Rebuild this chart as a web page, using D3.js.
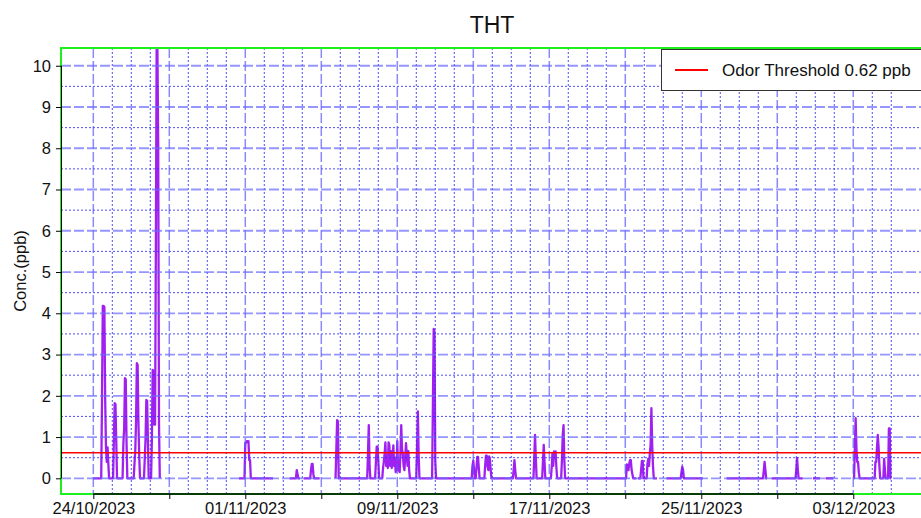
<!DOCTYPE html>

<head>
  <meta charset="utf-8">
  <script src="https://d3js.org/d3.v7.min.js"></script>
  <style>
    body {
      margin: 0;
      background: #fff;
    }

    text {
      font-family: "Liberation Sans", Arial, sans-serif;
      fill: #111;
    }

    text.title {
      font-size: 23px;
    }

    .axis text {
      font-size: 16.5px;
      fill: #111;
    }

    .axis .tick line {
      stroke: #000;
    }

    .axis path.domain {
      display: none;
    }

    .legend text {
      font-size: 17px;
    }
  </style>
</head>

<body>
  <script>
    // hourly THT readings, hours after 24/10/2023 00:00 -> ppb
    // every run is one stretch of recorded data, gaps between runs are missing data
    const startTime = '24/10/2023';
    const run1 = [[0, 0], [10, 0], [11, 1.92], [12, 4.18], [13, 4.18], [14, 4.15], [15, 1.92], [16, 0.77], [17, 0.4], [18, 0.75], [19, 0.35], [20, 0],
      [25, 0], [26, 0.93], [27, 1.82], [28, 1.8], [29, 0.9], [30, 0],
      [37, 0], [38, 0.85], [39, 1.21], [40, 2.43], [41, 2.4], [42, 0.85], [43, 0],
      [51, 0], [52, 0.35], [53, 0.65], [54, 1.37], [55, 2.79], [56, 2.75], [57, 1.37], [58, 0.55], [59, 0],
      [64, 0], [65, 0.47], [66, 0.95], [67, 1.9], [68, 1.88], [69, 0.95], [70, 0],
      [73, 0], [74, 0.95], [75, 2.63], [76, 2.6], [77, 1.3], [78, 1.3], [79, 5.4], [80, 10.4], [81, 10.4], [82, 8.07], [83, 1.3], [84, 0]];
    const run2 = [[184, 0], [191, 0], [192, 0.86], [193, 0.86], [194, 0.9], [195, 0.9], [196, 0.9], [197, 0.44], [198, 0.44], [199, 0], [227, 0]];
    const run3 = [[248, 0], [256, 0], [257, 0.2], [258, 0.1], [259, 0], [261, 0]];
    const run4 = [[266, 0], [274, 0], [275, 0.2], [276, 0.35], [277, 0.35], [278, 0.1], [279, 0], [286, 0]];
    const run5 = [[306, 0], [307, 0.7], [308, 1.41], [309, 1.38], [310, 0],
      [346, 0], [347, 0.61], [348, 1.29], [349, 0.3], [350, 0],
      [356, 0], [357, 0.4], [358, 0.77], [359, 0.77], [360, 0.45], [361, 0],
      [365, 0], [366, 0.25], [367, 0.4], [368, 0.6], [369, 0.87], [370, 0.3], [371, 0.5], [372, 0.25], [373, 0.87], [374, 0.8],
      [375, 0.3], [376, 0.66], [377, 0.25], [378, 0.45], [379, 0.8], [380, 0.3], [381, 0.5], [382, 0.15], [383, 0.25], [384, 0.9],
      [385, 0.2], [386, 0.2], [387, 0.15], [388, 0.6], [389, 1.29], [390, 0.7], [391, 0.6], [392, 0.3], [393, 0.2], [394, 0.5],
      [395, 0.85], [396, 0.6], [397, 0.3], [398, 0.66], [399, 0.2], [400, 0],
      [408, 0], [409, 0.8], [410, 1.62], [411, 0.55], [412, 0],
      [428, 0], [429, 1.82], [430, 3.62], [431, 3.55], [432, 0.4], [433, 0],
      [478, 0], [479, 0.3], [480, 0.43], [481, 0.2], [482, 0], [483, 0],
      [484, 0.24], [485, 0.52], [486, 0.52], [487, 0.24], [488, 0],
      [494, 0], [495, 0.3], [496, 0.55], [497, 0.55], [498, 0.3], [499, 0.2], [500, 0.53], [501, 0.45], [502, 0.2], [503, 0],
      [530, 0], [531, 0.2], [532, 0.44], [533, 0.2], [534, 0],
      [556, 0], [557, 0.5], [558, 1.05], [559, 0.5], [560, 0],
      [567, 0], [568, 0.4], [569, 0.81], [570, 0.4], [571, 0],
      [578, 0], [579, 0.25], [580, 0.6], [581, 0.3], [582, 0.65], [583, 0.5], [584, 0.65], [585, 0.25], [586, 0],
      [591, 0], [592, 0.45], [593, 1.05], [594, 1.29], [595, 0.45], [596, 0],
      [673, 0], [674, 0.34], [675, 0.3], [676, 0.2], [677, 0.35], [678, 0.44], [679, 0.44], [680, 0.2], [681, 0.1], [682, 0], [686, 0]];
    const run6 = [[688, 0], [691, 0], [692, 0.2], [693, 0.42], [694, 0.42], [695, 0],
      [699, 0], [700, 0.35], [701, 0.47], [702, 0.3], [703, 0.6], [704, 0.81], [705, 1.7], [706, 0.81], [707, 0.3], [708, 0], [712, 0]];
    const run7 = [[724, 0], [742, 0], [743, 0.15], [744, 0.28], [745, 0.2], [746, 0], [770, 0]];
    const run8 = [[800, 0], [846, 0], [847, 0.2], [848, 0.4], [849, 0.2], [850, 0], [851, 0]];
    const run9 = [[857, 0], [887, 0], [888, 0.2], [889, 0.49], [890, 0.2], [891, 0], [896, 0]];
    const run10 = [[909, 0], [918, 0]];
    const run11 = [[925, 0], [935, 0]];
    const run12 = [[960, 0], [961, 0], [962, 0.73], [963, 1.46], [964, 0.73], [965, 0.4], [966, 0.4], [967, 0.15], [968, 0],
      [987, 0], [988, 0.4], [989, 0.4], [990, 0.76], [991, 1.05], [992, 0.76], [993, 0.3], [994, 0],
      [998, 0], [999, 0.47], [1000, 0.2], [1001, 0], [1004, 0], [1005, 1.21], [1006, 1.21], [1007, 0], [1008, 0]];
    const runs = [run1, run2, run3, run4, run5, run6, run7, run8, run9, run10, run11, run12];

    const threshold = 0.62;
    const xLimits = ['22/10/2023 07:12', '06/12/2023 16:05'];
    const yLimits = [-0.38, 10.43];
    const gridDays = ['24/10/2023', '05/12/2023'];
    const xTicks = ['24/10/2023', '28/10/2023', '01/11/2023', '05/11/2023', '09/11/2023', '13/11/2023',
      '17/11/2023', '21/11/2023', '25/11/2023', '29/11/2023', '03/12/2023'];
    const xLabels = ['24/10/2023', '01/11/2023', '09/11/2023', '17/11/2023', '25/11/2023', '03/12/2023'];
    const yTicks = [0, 1, 2, 3, 4, 5, 6, 7, 8, 9, 10];
    const yMinor = [0.5, 1.5, 2.5, 3.5, 4.5, 5.5, 6.5, 7.5, 8.5, 9.5];

    var width = 921;
    var height = 518;
    const margin = { top: 48, right: -2, bottom: 24, left: 61 };

    var svg = d3.select('body').append('svg')
      .attr('width', width)
      .attr('height', height);

    const parseDay = d3.utcParse('%d/%m/%Y');
    const parseTime = d3.utcParse('%d/%m/%Y %H:%M');
    const t0 = parseDay(startTime);

    let x = d3.scaleUtc()
      .domain(xLimits.map(parseTime))
      .range([margin.left, width - margin.right]);

    let y = d3.scaleLinear()
      .domain(yLimits)
      .range([height - margin.bottom, margin.top]);

    svg.append('clipPath')
      .attr('id', 'plotClip')
      .append('rect')
      .attr('x', margin.left)
      .attr('y', margin.top)
      .attr('width', width - margin.right - margin.left)
      .attr('height', height - margin.bottom - margin.top);

    let plot = svg.append('g').attr('clip-path', 'url(#plotClip)');

    // data
    let line = d3.line()
      .x(d => x(d3.utcHour.offset(t0, d[0])))
      .y(d => y(d[1]));

    plot.selectAll('path.run')
      .data(runs)
      .enter()
      .append('path')
      .attr('class', 'run')
      .attr('d', line)
      .style('fill', 'none')
      .style('stroke', '#a020f0')
      .style('stroke-width', 2.3)
      .style('stroke-linejoin', 'round');

    // grid on top of the data
    let majorDays = xTicks.map(parseDay);
    let minorDays = d3.utcDay.range(parseDay(gridDays[0]), d3.utcDay.offset(parseDay(gridDays[1]), 1))
      .filter(d => !majorDays.some(m => +m == +d));

    plot.selectAll('line.vMinor')
      .data(minorDays)
      .enter()
      .append('line')
      .attr('class', 'vMinor')
      .attr('x1', d => x(d)).attr('x2', d => x(d))
      .attr('y1', margin.top).attr('y2', height - margin.bottom)
      .style('stroke', '#2f2fff')
      .style('stroke-width', 1)
      .style('stroke-dasharray', '2,2')
      .style('opacity', 0.85);

    plot.selectAll('line.hMinor')
      .data(yMinor)
      .enter()
      .append('line')
      .attr('class', 'hMinor')
      .attr('x1', margin.left).attr('x2', width - margin.right)
      .attr('y1', d => y(d)).attr('y2', d => y(d))
      .style('stroke', '#2f2fff')
      .style('stroke-width', 1)
      .style('stroke-dasharray', '2,2')
      .style('opacity', 0.85);

    plot.selectAll('line.vMajor')
      .data(majorDays)
      .enter()
      .append('line')
      .attr('class', 'vMajor')
      .attr('x1', d => x(d)).attr('x2', d => x(d))
      .attr('y1', margin.top).attr('y2', height - margin.bottom)
      .style('stroke', '#5a5aff')
      .style('stroke-width', 1.5)
      .style('stroke-dasharray', '10,3')
      .style('opacity', 0.7);

    plot.selectAll('line.hMajor')
      .data(yTicks)
      .enter()
      .append('line')
      .attr('class', 'hMajor')
      .attr('x1', margin.left).attr('x2', width - margin.right)
      .attr('y1', d => y(d)).attr('y2', d => y(d))
      .style('stroke', '#6a6aff')
      .style('stroke-width', 1.8)
      .style('stroke-dasharray', '10,3')
      .style('opacity', 0.7);

    // odor threshold
    plot.append('line')
      .attr('x1', margin.left).attr('x2', width - margin.right)
      .attr('y1', y(threshold)).attr('y2', y(threshold))
      .style('stroke', '#ff0000')
      .style('stroke-width', 1.6);

    // frame
    svg.append('rect')
      .attr('x', margin.left)
      .attr('y', margin.top)
      .attr('width', width - margin.right - margin.left)
      .attr('height', height - margin.bottom - margin.top)
      .style('fill', 'none')
      .style('stroke', '#1ef01e')
      .style('stroke-width', 2);

    // axes
    let yAxis = d3.axisLeft(y)
      .tickValues(yTicks)
      .tickSize(5)
      .tickPadding(5)
      .tickFormat(d3.format('d'));

    svg.append('g')
      .attr('class', 'axis yAxis')
      .attr('transform', `translate(${margin.left}, 0)`)
      .call(yAxis);

    svg.append('line')
      .attr('x1', margin.left + 0.5).attr('x2', margin.left + 0.5)
      .attr('y1', y(0)).attr('y2', y(10))
      .style('stroke', '#000');

    let xAxis = d3.axisBottom(x)
      .tickValues(majorDays)
      .tickSize(5)
      .tickPadding(3)
      .tickFormat(d => {
        let s = d3.utcFormat('%d/%m/%Y')(d);
        return xLabels.includes(s) ? s : '';
      });

    svg.append('g')
      .attr('class', 'axis xAxis')
      .attr('transform', `translate(0, ${height - margin.bottom})`)
      .call(xAxis);

    svg.append('line')
      .attr('x1', x(majorDays[0])).attr('x2', x(majorDays[majorDays.length - 1]))
      .attr('y1', height - margin.bottom).attr('y2', height - margin.bottom)
      .style('stroke', '#000')
      .style('stroke-width', 1.5);

    // titles
    svg.append('text')
      .attr('class', 'title')
      .attr('x', (margin.left + width - margin.right) / 2)
      .attr('y', 33)
      .style('text-anchor', 'middle')
      .text('THT');

    svg.append('text')
      .attr('transform', `translate(26, ${(margin.top + height - margin.bottom) / 2}) rotate(-90)`)
      .style('text-anchor', 'middle')
      .style('font-size', '16.5px')
      .text('Conc.(ppb)');

    // legend
    let legend = svg.append('g')
      .attr('class', 'legend')
      .attr('transform', 'translate(661, 49)');

    legend.append('rect')
      .attr('x', 0.5).attr('y', 0.5)
      .attr('width', 280).attr('height', 41)
      .style('fill', '#fff')
      .style('stroke', '#333')
      .style('stroke-width', 1);

    legend.append('line')
      .attr('x1', 14).attr('x2', 47)
      .attr('y1', 21).attr('y2', 21)
      .style('stroke', '#ff0000')
      .style('stroke-width', 2);

    legend.append('text')
      .attr('x', 61)
      .attr('y', 27)
      .text('Odor Threshold ' + threshold + ' ppb');
  </script>
</body>
